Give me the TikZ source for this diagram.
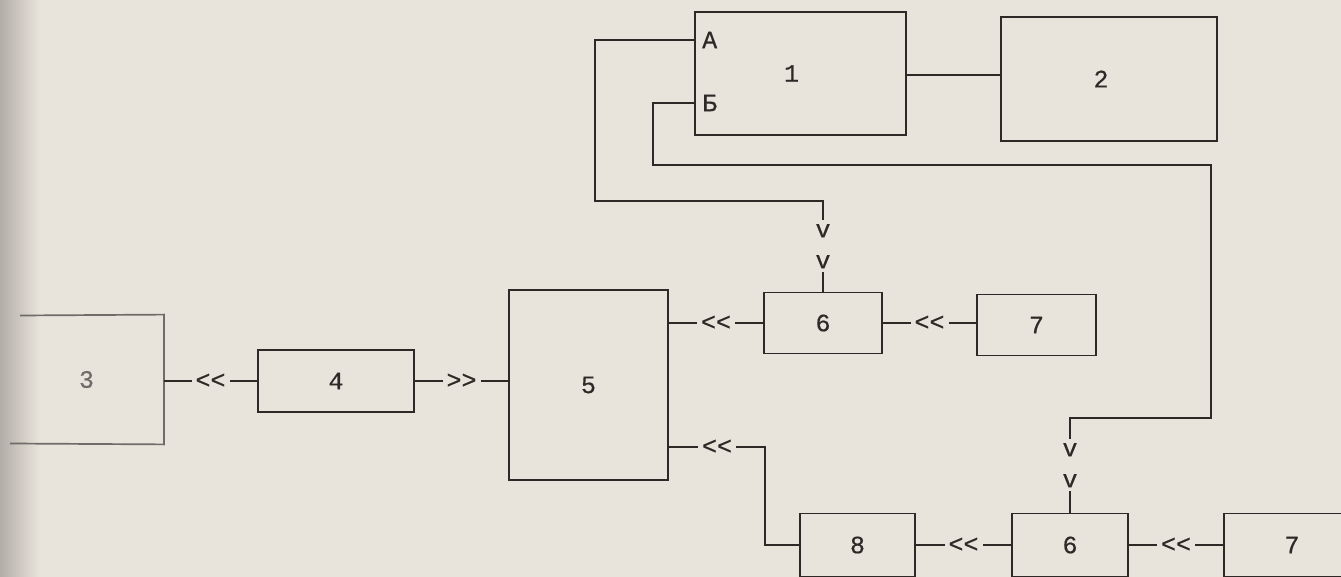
\documentclass[tikz,border=0pt]{standalone}
\usepackage{fontspec}
\newfontfamily\tw[FakeBold=0.5]{Liberation Mono}
\definecolor{paper}{RGB}{233,228,219}
\definecolor{ink}{RGB}{45,41,38}
\definecolor{faded}{RGB}{110,107,104}
\definecolor{shadow}{RGB}{178,173,167}
\tikzset{
  blk/.style={draw=ink, line width=1.8pt, minimum width=#1, inner sep=0pt, text=ink,
              font=\tw\fontsize{25}{25}\selectfont},
  wire/.style={draw=ink, line width=1.8pt},
  chev/.style={fill=paper, inner xsep=4pt, inner ysep=2pt, text=ink,
               font=\tw\fontsize{25}{25}\selectfont},
  vv/.style={fill=paper, inner xsep=2pt, inner ysep=4pt, text=ink, align=center,
             font=\tw\fontsize{25}{31}\selectfont},
  lbl/.style={text=ink, inner sep=0pt, font=\tw\fontsize{25}{25}\selectfont},
}
\begin{document}
\begin{tikzpicture}[x=1pt,y=-1pt]
\clip (0,0) rectangle (1341,577);
\fill[paper] (0,0) rectangle (1341,577);
\shade[left color=shadow, right color=paper] (0,0) rectangle (40,577);

% boxes
\node[blk=211pt, minimum height=123pt] (b1) at (800.5,73.5) {\hspace*{-18pt}1};
\node[blk=216pt, minimum height=124pt] (b2) at (1109,79) {\hspace*{-16pt}2};
\node[blk=153pt, minimum height=128pt, draw=none, text=faded] (b3) at (86.5,379.5) {3};
\node[blk=156pt, minimum height=62pt] (b4) at (336,381) {4};
\node[blk=159pt, minimum height=190pt] (b5) at (588.5,385) {5};
\node[blk=118pt, minimum height=61pt] (b6a) at (823,323) {6};
\node[blk=119pt, minimum height=61pt] (b7a) at (1036.5,325) {7};
\node[blk=115pt, minimum height=63pt] (b8) at (857.5,545) {8};
\node[blk=116pt, minimum height=63pt] (b6b) at (1070,545) {6};
\node[blk=136pt, minimum height=63pt] (b7b) at (1292,545) {7};

% box 3 (left edge lost in the margin)
\draw[draw=faded, line width=1.7pt] (20,315.5) -- (b3.north east) -- (b3.south east) -- (10,443.5);

% port labels of box 1
\node[lbl, anchor=west] (lA) at (702,40) {А};
\node[lbl, anchor=west] (lB) at (702,103) {Б};

% connectors
\draw[wire] (b1.east |- 0,75) -- (b2.west |- 0,75);
\draw[wire] (b4.west) -- node[chev]{<<} (b4.west -| b3.east);
\draw[wire] (b4.east) -- node[chev]{>>} (b4.east -| b5.west);
\draw[wire] (b5.east |- b6a.west) -- node[chev]{<<} (b6a.west);
\draw[wire] (b6a.east) -- node[chev]{<<} (b6a.east -| b7a.west);
\draw[wire] (b5.east |- 0,447) -- node[chev]{<<} (765,447) |- (b8.west);
\draw[wire] (b8.east) -- node[chev]{<<} (b6b.west);
\draw[wire] (b6b.east) -- node[chev]{<<} (b7b.west);

\coordinate (cA) at (595,201);
\coordinate (cB) at (653,165);
\coordinate (cR) at (1211,418);
\draw[wire] (b1.west |- lA) -| (cA) -- (cA -| b6a.north) -- node[vv]{v\\v} (b6a.north);
\draw[wire] (b1.west |- lB) -| (cB) -- (cB -| cR) -- (cR) -- (cR -| b6b.north) -- node[vv]{v\\v} (b6b.north);
\end{tikzpicture}
\end{document}
